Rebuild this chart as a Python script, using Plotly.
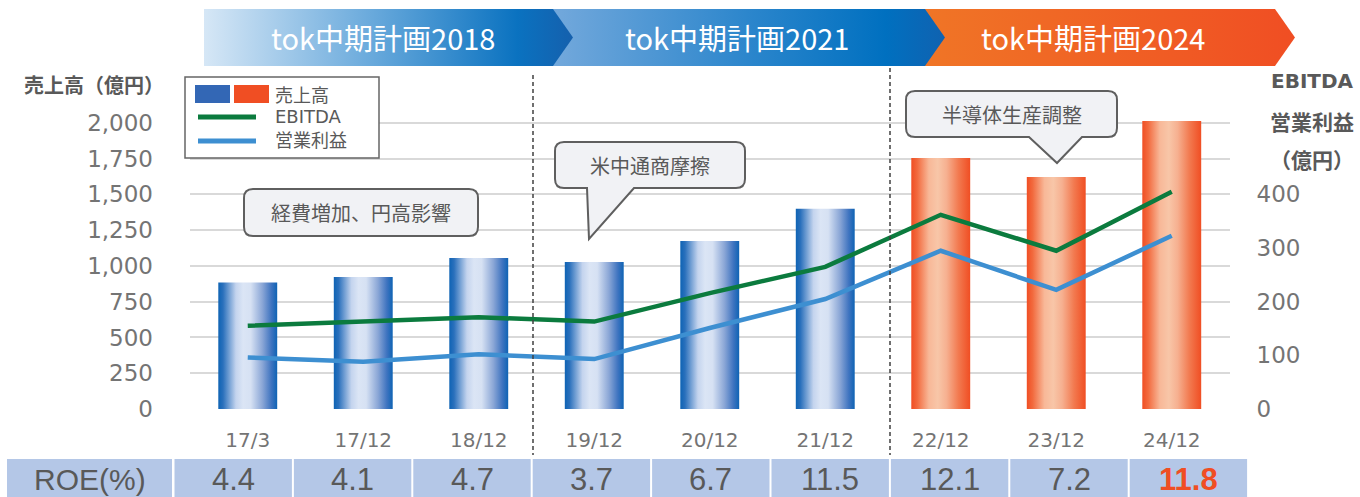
import plotly.graph_objects as go

# ---------------- data ----------------
categories = ["17/3", "17/12", "18/12", "19/12", "20/12", "21/12", "22/12", "23/12", "24/12"]
sales = [885, 922, 1055, 1027, 1175, 1400, 1755, 1621, 2013]          # 売上高（億円）
ebitda = [155, 164, 171, 163, 216, 265, 362, 295, 405]                # EBITDA（億円）
op_profit = [96, 88, 102, 93, 151, 205, 295, 222, 323]                # 営業利益（億円）
roe = [4.4, 4.1, 4.7, 3.7, 6.7, 11.5, 12.1, 7.2, 11.8]                # ROE(%)
plan_of_year = [0, 0, 0, 1, 1, 1, 2, 2, 2]
plan_labels = ["tok中期計画2018", "tok中期計画2021", "tok中期計画2024"]
callout_texts = ["経費増加、円高影響", "米中通商摩擦", "半導体生産調整"]
left_ticks = [0, 250, 500, 750, 1000, 1250, 1500, 1750, 2000]
right_ticks = [0, 100, 200, 300, 400]

# ---------------- styles ----------------
W, H = 1360, 497
JP = "Noto Sans CJK JP"
GREY = "#595959"
TICK_GREY = "#747474"
BLUE_SCALE = [[0, "#0e63b4"], [0.08, "#2a70bc"], [0.3, "#c4d4ee"], [0.42, "#dbe5f5"],
              [0.55, "#d6e1f3"], [0.75, "#8aa6d6"], [0.9, "#3f74c0"], [1, "#0e63b4"]]
ORANGE_SCALE = [[0, "#f04e23"], [0.1, "#f26a3e"], [0.3, "#f8b898"], [0.45, "#f8c6a8"],
                [0.6, "#f6b090"], [0.8, "#f27a50"], [1, "#f04e23"]]
PLAN_SCALES = [
    [[0, "#d6e7f6"], [0.45, "#6aaadc"], [0.85, "#0a72c0"], [1, "#1560ad"]],
    [[0, "#74a9dc"], [0.5, "#2c86cc"], [0.85, "#0070c0"], [1, "#1062b0"]],
    [[0, "#f07526"], [1, "#f04e23"]],
]
EBITDA_COLOR = "#0b7b3e"
OP_COLOR = "#3d8fd1"

PLOT_L, PLOT_R, PLOT_B, PLOT_T = 190, 1229.5, 409, 118.6
Y_MAX = 2030
RATIO = 3.75
HALF = 0.255

fig = go.Figure()

# bars as gradient-filled polygons on the category axis
for i, v in enumerate(sales):
    scale = ORANGE_SCALE if plan_of_year[i] == 2 else BLUE_SCALE
    fig.add_trace(go.Scatter(
        x=[i - HALF, i + HALF, i + HALF, i - HALF, i - HALF],
        y=[0, 0, v, v, 0],
        mode="lines", line=dict(width=0, color="rgba(0,0,0,0)"),
        fill="toself",
        fillgradient=dict(type="horizontal", colorscale=scale),
        hoverinfo="skip", showlegend=False, xaxis="x", yaxis="y"))

xs = list(range(len(categories)))
fig.add_trace(go.Scatter(x=xs, y=ebitda, mode="lines", line=dict(color=EBITDA_COLOR, width=4.5),
                         name="EBITDA", xaxis="x", yaxis="y2", showlegend=False))
fig.add_trace(go.Scatter(x=xs, y=op_profit, mode="lines", line=dict(color=OP_COLOR, width=4.5),
                         name="営業利益", xaxis="x", yaxis="y2", showlegend=False))

# banner chevrons (pixel overlay axes)
chev = [(204, 573), (550, 945), (925, 1295)]
for k in [2, 1, 0]:
    x0, tip = chev[k]
    xb = tip - 20
    fig.add_trace(go.Scatter(
        x=[x0, xb, tip, xb, x0, x0], y=[9, 9, 37.5, 66, 66, 9],
        mode="lines", line=dict(width=0, color="rgba(0,0,0,0)"), fill="toself",
        fillgradient=dict(type="horizontal", colorscale=PLAN_SCALES[k]),
        hoverinfo="skip", showlegend=False, xaxis="x3", yaxis="y3"))

annotations = []
shapes = []
plan_centers = [383, 737, 1093]
for k, t in enumerate(plan_labels):
    annotations.append(dict(x=plan_centers[k], y=37, xref="x3", yref="y3", text=t, showarrow=False,
                            font=dict(family=JP, size=29, color="white")))

# dashed separators
for xpix, ytop in [(533, 75), (890, 68)]:
    shapes.append(dict(type="line", xref="x3", yref="y3", x0=xpix, x1=xpix, y0=ytop, y1=455,
                       line=dict(color="#404040", width=1.5, dash="4px,3px")))

# callouts
def callout_path(x0, y0, x1, y1, r=9, tail=None):
    p = f"M {x0 + r},{y0} L {x1 - r},{y0} Q {x1},{y0} {x1},{y0 + r} L {x1},{y1 - r} Q {x1},{y1} {x1 - r},{y1} "
    if tail:
        ta, tb, tx, ty = tail
        p += f"L {tb},{y1} L {tx},{ty} L {ta},{y1} "
    p += f"L {x0 + r},{y1} Q {x0},{y1} {x0},{y1 - r} L {x0},{y0 + r} Q {x0},{y0} {x0 + r},{y0} Z"
    return p

callouts = [
    ((244, 189, 478, 236), None),
    ((555, 142, 745, 188), (587, 634, 589, 239)),
    ((906, 91, 1117, 137), (1029, 1082, 1057, 163)),
]
for (box, tail), txt in zip(callouts, callout_texts):
    shapes.append(dict(type="path", xref="x3", yref="y3", path=callout_path(*box, tail=tail),
                       fillcolor="#f1f2f5", line=dict(color="#5f5f5f", width=2)))
    annotations.append(dict(x=(box[0] + box[2]) / 2, y=(box[1] + box[3]) / 2, xref="x3", yref="y3",
                            text=txt, showarrow=False, font=dict(family=JP, size=20, color=GREY)))

# legend box
shapes.append(dict(type="rect", xref="x3", yref="y3", x0=185, x1=379, y0=77, y1=158,
                   fillcolor="white", line=dict(color="#666666", width=1.5)))
shapes.append(dict(type="rect", xref="x3", yref="y3", x0=195, x1=230, y0=85, y1=103,
                   fillcolor="#3367b5", line=dict(width=0)))
shapes.append(dict(type="rect", xref="x3", yref="y3", x0=234, x1=269, y0=85, y1=103,
                   fillcolor="#f04e23", line=dict(width=0)))
shapes.append(dict(type="line", xref="x3", yref="y3", x0=198, x1=256, y0=117, y1=117,
                   line=dict(color=EBITDA_COLOR, width=5)))
shapes.append(dict(type="line", xref="x3", yref="y3", x0=198, x1=256, y0=141, y1=141,
                   line=dict(color=OP_COLOR, width=5)))
for txt, yy, fam in [("売上高", 94, JP), ("EBITDA", 116, "DejaVu Sans"), ("営業利益", 139, JP)]:
    annotations.append(dict(x=273, y=yy, xref="x3", yref="y3", text=txt, showarrow=False,
                            xanchor="left", font=dict(family=fam, size=18, color=GREY)))

# axis titles
annotations.append(dict(x=94, y=84, xref="x3", yref="y3", text="<b>売上高（億円）</b>", showarrow=False,
                        font=dict(family=JP, size=20, color=GREY)))
annotations.append(dict(x=1312, y=81, xref="x3", yref="y3", text="<b>EBITDA</b>", showarrow=False,
                        font=dict(family="DejaVu Sans", size=20, color=GREY)))
annotations.append(dict(x=1312, y=121, xref="x3", yref="y3", text="<b>営業利益</b>", showarrow=False,
                        font=dict(family=JP, size=21, color=GREY)))
annotations.append(dict(x=1312, y=159, xref="x3", yref="y3", text="<b>（億円）</b>", showarrow=False,
                        font=dict(family=JP, size=21, color=GREY)))

# ROE row
CELL_Y0, CELL_Y1 = 459, 497
shapes.append(dict(type="rect", xref="x3", yref="y3", x0=7, x1=172, y0=CELL_Y0, y1=CELL_Y1,
                   fillcolor="#b4c7e7", line=dict(width=0)))
annotations.append(dict(x=89.5, y=479, xref="x3", yref="y3", text="ROE(%)", showarrow=False,
                        font=dict(family="Liberation Sans", size=30, color=GREY)))
CELL_W = 119.4
for i, v in enumerate(roe):
    cx0 = 174.5 + CELL_W * i
    shapes.append(dict(type="rect", xref="x3", yref="y3", x0=cx0, x1=cx0 + CELL_W - 2, y0=CELL_Y0, y1=CELL_Y1,
                       fillcolor="#b4c7e7", line=dict(width=0)))
    last = i == len(roe) - 1
    txt = f"<b>{v:.1f}</b>" if last else f"{v:.1f}"
    annotations.append(dict(x=cx0 + (CELL_W - 2) / 2, y=479, xref="x3", yref="y3", text=txt, showarrow=False,
                            font=dict(family="Liberation Sans", size=31,
                                      color="#f04e23" if last else GREY)))

fig.update_layout(
    width=W, height=H, autosize=False,
    margin=dict(l=0, r=0, t=0, b=0, pad=0, autoexpand=False),
    paper_bgcolor="white", plot_bgcolor="rgba(0,0,0,0)",
    showlegend=False, separators=".,",
    xaxis=dict(domain=[PLOT_L / W, PLOT_R / W], range=[-0.5, len(categories) - 0.5],
               tickvals=xs, ticktext=categories, showgrid=False, zeroline=False, showline=False,
               ticks="", ticklabelstandoff=17, automargin=False,
               tickfont=dict(family="DejaVu Sans", size=20, color=TICK_GREY), anchor="y"),
    yaxis=dict(domain=[(H - PLOT_B) / H, (H - PLOT_T) / H], range=[0, Y_MAX],
               tickvals=left_ticks, tickformat=",", showgrid=True, gridcolor="#d9d9d9", gridwidth=1.5,
               zeroline=False, showline=False, ticks="", ticklabelstandoff=36, automargin=False,
               tickfont=dict(family="DejaVu Sans", size=23, color=TICK_GREY), anchor="x"),
    yaxis2=dict(overlaying="y", side="right", range=[0, Y_MAX / RATIO], tickvals=right_ticks,
                showgrid=False, zeroline=False, showline=False, ticks="", ticklabelstandoff=26,
                automargin=False,
                tickfont=dict(family="DejaVu Sans", size=23, color=TICK_GREY), anchor="x"),
    xaxis3=dict(domain=[0, 1], range=[0, W], visible=False, anchor="y3", fixedrange=True, automargin=False),
    yaxis3=dict(domain=[0, 1], range=[H, 0], visible=False, anchor="x3", fixedrange=True, automargin=False),
    shapes=shapes,
    annotations=annotations,
)

fig.write_html("out.html", config={"displayModeBar": False},
               post_script="document.body.style.margin='0';document.body.style.overflow='hidden';")
